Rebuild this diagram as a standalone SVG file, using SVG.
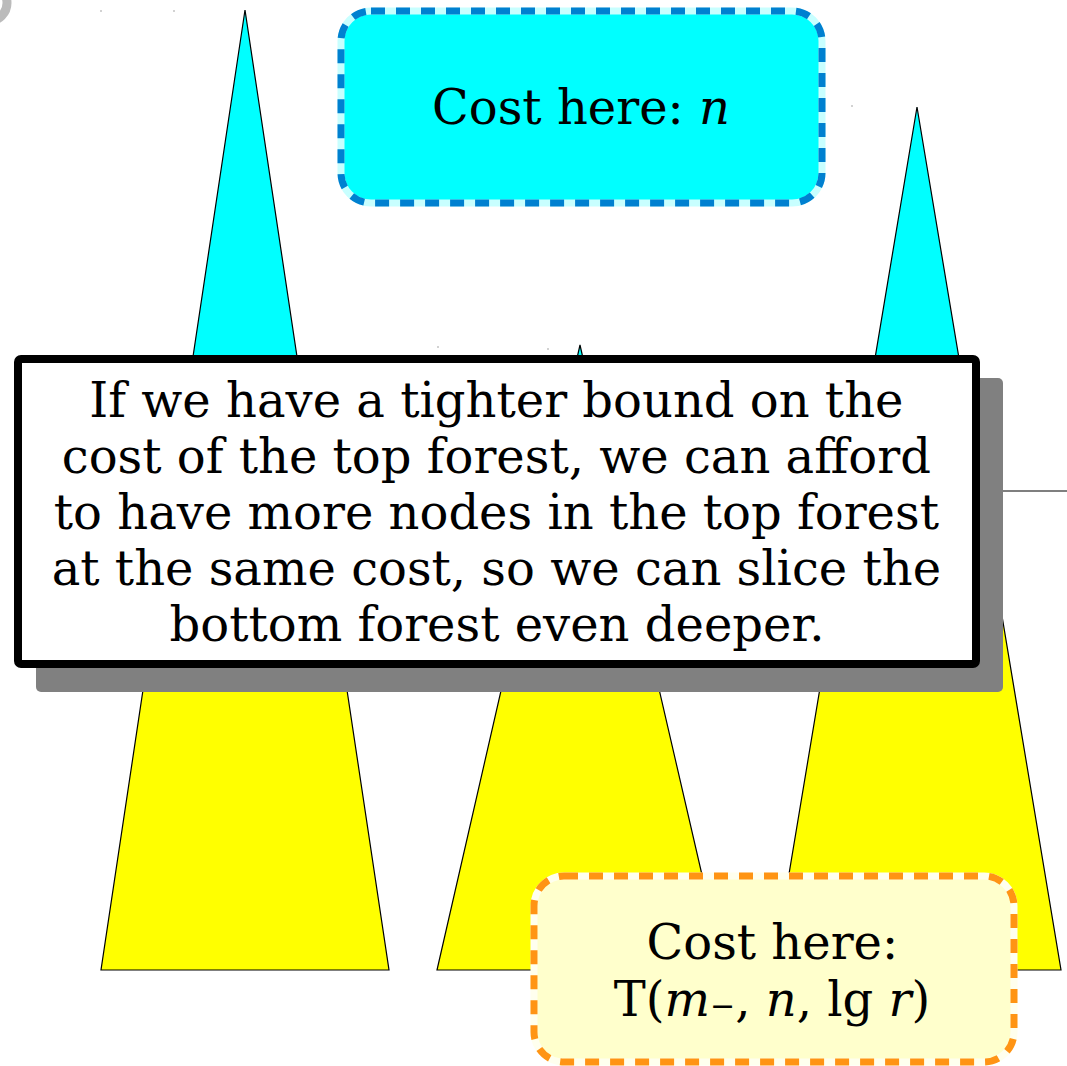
<svg xmlns="http://www.w3.org/2000/svg" width="1067" height="1066" viewBox="0 0 1067 1066">
<style>
.tree{stroke:#000;stroke-width:1.2;stroke-linejoin:miter}
.top{fill:#00ffff}
.bot{fill:#ffff00}
.t{font-family:"DejaVu Serif","Liberation Serif",serif;fill:#000;text-anchor:middle}
.dot{fill:#999}
</style>
<rect width="1067" height="1066" fill="#fff"/>
<circle cx="-11" cy="3" r="18" fill="none" stroke="#bbbbbb" stroke-width="9"/>
<circle class="dot" cx="101" cy="11" r="0.8"/>
<circle class="dot" cx="174" cy="11" r="0.8"/>
<circle class="dot" cx="852" cy="106" r="0.8"/>
<circle class="dot" cx="438" cy="347" r="0.8"/>
<circle class="dot" cx="548" cy="349" r="0.8"/>
<g id="connectors">
<line x1="980" y1="491" x2="1067" y2="491" stroke="#555" stroke-width="1.3"/>
</g>
<g id="tree-left">
<polygon class="tree bot" points="173,490 317,490 389,970 101,970"/>
<polygon class="tree top" points="245,10 317,490 173,490"/>
</g>
<g id="tree-middle">
<polygon class="tree bot" points="547,490 613,490 724,970 437,970"/>
<polygon class="tree top" points="580,345 613,490 547,490"/>
</g>
<g id="tree-right">
<polygon class="tree bot" points="853,490 981,490 1061,970 773,970"/>
<polygon class="tree top" points="917,107 981,490 853,490"/>
</g>
<g id="cost-top">
<rect x="341" y="11" width="481" height="192" rx="30" fill="#00ffff" stroke="#c8ffff" stroke-width="7"/>
<rect x="341" y="11" width="481" height="192" rx="30" fill="none" stroke="#0080d0" stroke-width="7" stroke-dasharray="14 11"/>
<text class="t" x="581" y="124" font-size="48">Cost here: <tspan font-style="italic">n</tspan></text>
</g>
<g id="note">
<rect x="36" y="378" width="967" height="314" rx="5" fill="#808080"/>
<rect x="18" y="359" width="958" height="305" rx="3" fill="#fff" stroke="#000" stroke-width="8"/>
<text class="t" font-size="48">
<tspan x="504" y="417">If we have a tighter bound on the</tspan>
<tspan x="504" y="473">cost of the top forest, we can afford</tspan>
<tspan x="504" y="529">to have more nodes in the top forest</tspan>
<tspan x="504" y="585">at the same cost, so we can slice the</tspan>
<tspan x="497" y="641">bottom forest even deeper.</tspan>
</text>
</g>
<g id="cost-bottom">
<rect x="534" y="876" width="480" height="186" rx="30" fill="#ffffcc" stroke="#ffffee" stroke-width="7"/>
<rect x="534" y="876" width="480" height="186" rx="30" fill="none" stroke="#ff9414" stroke-width="7" stroke-dasharray="14 11"/>
<text class="t" font-size="48">
<tspan x="780" y="959">Cost here:</tspan>
<tspan x="772" y="1016">T(<tspan font-style="italic">m</tspan><tspan font-size="30">−</tspan>, <tspan font-style="italic">n</tspan>, lg <tspan font-style="italic">r</tspan>)</tspan>
</text>
</g>
</svg>
